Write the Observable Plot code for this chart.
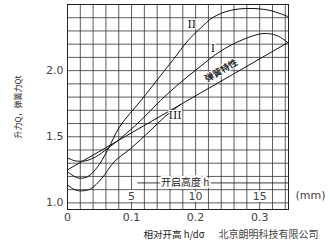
<!DOCTYPE html>
<html>
<head>
<meta charset="utf-8">
<script src="https://cdn.jsdelivr.net/npm/d3@7"></script>
<script src="https://cdn.jsdelivr.net/npm/@observablehq/plot@0.6"></script>
<style>
  html, body { margin: 0; padding: 0; background: #fff; }
  #chart svg { display: block; }
</style>
</head>
<body>
<div id="chart"></div>
<script>
// Relative lift h/d0 (x) and force ratio (y) for each curve
const curveIx = [0, 0.012, 0.028, 0.044, 0.062, 0.082, 0.114, 0.145, 0.176, 0.207, 0.238, 0.274, 0.305, 0.327, 0.344];
const curveIy = [1.34, 1.318, 1.318, 1.348, 1.409, 1.485, 1.621, 1.773, 1.909, 2.03, 2.144, 2.235, 2.28, 2.265, 2.212];

const curveIIx = [0, 0.016, 0.031, 0.047, 0.062, 0.082, 0.114, 0.145, 0.165, 0.188, 0.207, 0.227, 0.254, 0.285, 0.316, 0.344];
const curveIIy = [1.235, 1.189, 1.197, 1.273, 1.394, 1.58, 1.77, 1.96, 2.083, 2.227, 2.318, 2.402, 2.455, 2.47, 2.455, 2.409];

const curveIIIx = [0, 0.012, 0.023, 0.036, 0.053, 0.073, 0.098, 0.129, 0.152, 0.176];
const curveIIIy = [1.136, 1.098, 1.091, 1.106, 1.182, 1.311, 1.409, 1.545, 1.652, 1.742];

const springX = [0, 0.344];
const springY = [1.25, 2.212];

const xTicks = [0, 0.1, 0.2, 0.3];
const yTicks = [1.0, 1.5, 2.0];
const mmTicks = [5, 10, 15];       // opening height h in mm
const d0 = 50;                      // 5 mm <-> 0.1

const xGrid = d3.range(0.02, 0.345, 0.02);
const yGrid = d3.range(1.0, 2.45, 0.1);

const toRows = (xs, ys, name) => xs.map((x, i) => ({x, y: ys[i], name}));
const lines = [
  ...toRows(curveIx, curveIy, "I"),
  ...toRows(curveIIx, curveIIy, "II"),
  ...toRows(curveIIIx, curveIIIy, "III"),
  ...toRows(springX, springY, "spring")
];

const labels = [
  {x: 0.194, y: 2.35, t: "II"},
  {x: 0.227, y: 2.17, t: "I"},
  {x: 0.168, y: 1.66, t: "III"}
];

const cjk = "'Noto Sans CJK SC', 'DejaVu Sans', sans-serif";

const chart = Plot.plot({
  width: 330,
  height: 248,
  marginLeft: 67,
  marginRight: 42,
  marginTop: 4,
  marginBottom: 39,
  style: {fontFamily: "'DejaVu Sans', sans-serif", fontSize: "11px", color: "#333", background: "#fff"},
  x: {domain: [0, 0.345], axis: null},
  y: {domain: [0.95, 2.5], axis: null},
  marks: [
    Plot.ruleX(xGrid, {stroke: "#333", strokeWidth: 0.8}),
    Plot.ruleY(yGrid, {stroke: "#333", strokeWidth: 0.8}),
    Plot.frame({stroke: "#222", strokeWidth: 1}),
    // opening height (mm) auxiliary axis
    Plot.ruleY([1.151], {x1: 0.11, x2: 0.345, stroke: "#222", strokeWidth: 0.9}),
    Plot.text(["开启高度 h"], {x: [0.1835], y: [1.151], fontFamily: cjk, fontSize: 10, fill: "#222", stroke: "white", strokeWidth: 4, paintOrder: "stroke"}),
    Plot.text(mmTicks, {x: d => d / d0, y: 1.045, text: d => String(d), fontSize: 11, fill: "#444", stroke: "white", strokeWidth: 4, paintOrder: "stroke"}),
    Plot.text(["(mm)"], {frameAnchor: "bottom-right", dx: 22, dy: -11, fontSize: 11, fill: "#444", textAnchor: "middle"}),
    // curves
    Plot.line(lines, {x: "x", y: "y", z: "name", curve: "catmull-rom", stroke: "#111", strokeWidth: 1}),
    Plot.text(labels, {x: "x", y: "y", text: "t", fontFamily: "'DejaVu Serif', serif", fontSize: 11, fill: "#111", stroke: "white", strokeWidth: 2, paintOrder: "stroke"}),
    Plot.text(["弹簧特性"], {x: [0.24], y: [2.0], rotate: -30, fontFamily: cjk, fontSize: 9, fontWeight: "bold", fill: "#222", stroke: "white", strokeWidth: 2, paintOrder: "stroke"}),
    // axes
    Plot.axisX(xTicks, {label: null, tickSize: 0, tickPadding: 4, tickFormat: d => d === 0 ? "0" : d.toFixed(1), fill: "#444"}),
    Plot.axisY(yTicks, {label: null, tickSize: 0, tickPadding: 4, tickFormat: d => d.toFixed(1), fill: "#444"}),
    Plot.text(["升力Q，弹簧力Qt"], {frameAnchor: "left", dx: -49, rotate: -90, textAnchor: "middle", fontFamily: cjk, fontSize: 8, fill: "#222"}),
    Plot.text(["相对开高 h/dσ"], {frameAnchor: "bottom", dx: -4, dy: 28, fontFamily: cjk, fontSize: 9.5, fill: "#222"}),
    Plot.text(["北京朗明科技有限公司"], {frameAnchor: "bottom-right", dx: 30, dy: 28, textAnchor: "end", fontFamily: cjk, fontSize: 10, fill: "#444"})
  ]
});
document.getElementById("chart").appendChild(chart);
</script>
</body>
</html>
